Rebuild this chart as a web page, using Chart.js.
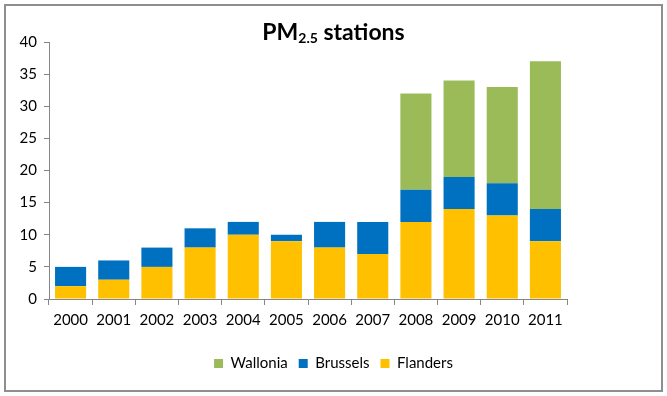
<!DOCTYPE html>
<html>
<head>
<meta charset="utf-8">
<script src="https://cdn.jsdelivr.net/npm/chart.js@4"></script>
<style>
  html, body { margin: 0; padding: 0; background: #fff; }
  #wrap { position: relative; width: 667px; height: 396px; }
  #title { position: absolute; left: 0; width: 667px; top: 17px; text-align: center;
           font-family: Lato, "Open Sans", sans-serif; font-weight: bold; font-size: 23px; color: #000; }
  #title sub { font-size: 14px; vertical-align: -3px; line-height: 0; }
</style>
</head>
<body>
<div id="wrap">
  <canvas id="c" width="667" height="396"></canvas>
  <div id="title">PM<sub>2.5</sub> stations</div>
</div>
<script>
const categories = ["2000","2001","2002","2003","2004","2005","2006","2007","2008","2009","2010","2011"];
const flanders = [2, 3, 5, 8, 10, 9, 8, 7, 12, 14, 13, 9];
const brussels = [3, 3, 3, 3, 2, 1, 4, 5, 5, 5, 5, 5];
const wallonia = [0, 0, 0, 0, 0, 0, 0, 0, 15, 15, 15, 23];
const yTicks = [0, 5, 10, 15, 20, 25, 30, 35, 40];

const borderPlugin = {
  id: 'outerBorder',
  beforeDraw(chart) {
    const ctx = chart.ctx;
    ctx.save();
    ctx.fillStyle = '#fff';
    ctx.fillRect(0, 0, chart.width, chart.height);
    ctx.strokeStyle = '#8e8e8e';
    ctx.lineWidth = 2;
    ctx.strokeRect(5, 5, 657, 386);
    ctx.restore();
  },
  afterLayout(chart) {
    const lg = chart.legend;
    if (lg) { lg.left += 50; lg.right += 50; }
  }
};

const fontFam = 'Lato, "Open Sans", sans-serif';

new Chart(document.getElementById('c'), {
  type: 'bar',
  data: {
    labels: categories,
    datasets: [
      { label: 'Flanders', data: flanders, backgroundColor: '#FFC000' },
      { label: 'Brussels', data: brussels, backgroundColor: '#0070C0' },
      { label: 'Wallonia', data: wallonia, backgroundColor: '#9BBB59' }
    ]
  },
  options: {
    responsive: false,
    animation: false,
    layout: { padding: { top: 42, right: 100, bottom: 15, left: 0 } },
    datasets: { bar: { categoryPercentage: 1.0, barPercentage: 0.72 } },
    plugins: {
      title: { display: false },
      tooltip: { enabled: false },
      legend: {
        position: 'bottom',
        reverse: true,
        labels: {
          boxWidth: 9, boxHeight: 9, padding: 11,
          color: '#000',
          font: { family: fontFam, size: 15 }
        }
      }
    },
    scales: {
      x: {
        stacked: true,
        grid: { display: true, drawOnChartArea: false, drawTicks: true, tickLength: 6, offset: true, color: '#868686' },
        border: { color: '#868686' },
        ticks: { color: '#000', padding: 6, font: { family: fontFam, size: 15 } },
        afterFit(s) { s.height = 46; }
      },
      y: {
        stacked: true,
        min: 0, max: 40,
        afterBuildTicks(s) { s.ticks = yTicks.map(v => ({ value: v })); },
        grid: { display: true, drawOnChartArea: false, drawTicks: true, tickLength: 5, color: '#868686' },
        border: { color: '#868686' },
        ticks: { color: '#000', padding: 7, font: { family: fontFam, size: 15 } },
        afterFit(s) { s.width = 49; }
      }
    }
  },
  plugins: [borderPlugin]
});
</script>
</body>
</html>
